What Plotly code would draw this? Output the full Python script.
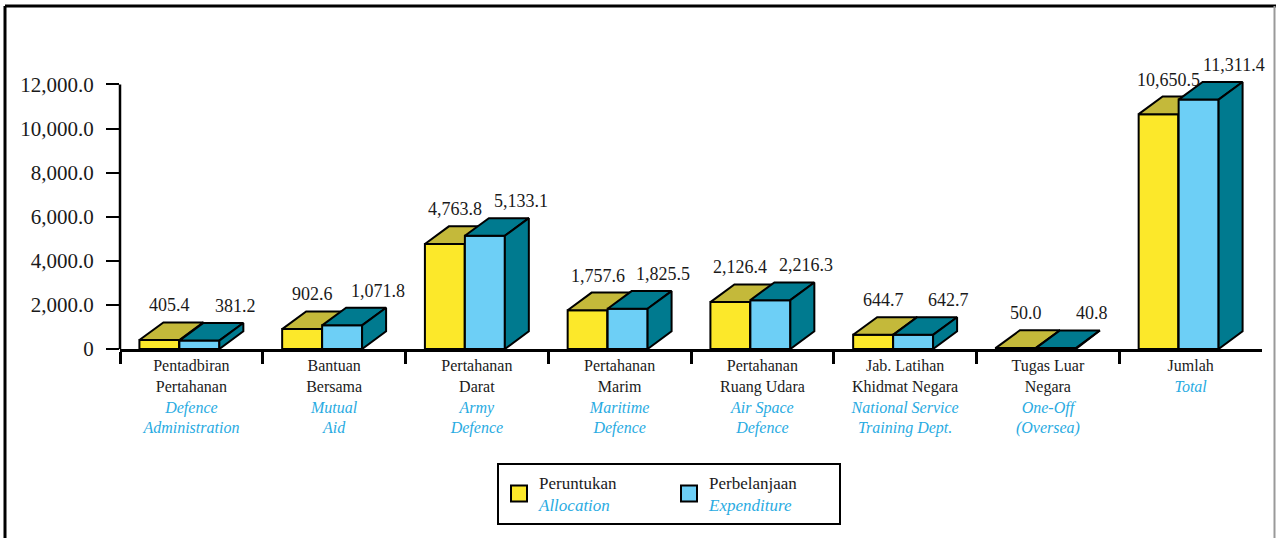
import plotly.graph_objects as go

# ---------------- data ----------------
categories_ms = ["Pentadbiran<br>Pertahanan", "Bantuan<br>Bersama", "Pertahanan<br>Darat",
                 "Pertahanan<br>Marim", "Pertahanan<br>Ruang Udara", "Jab. Latihan<br>Khidmat Negara",
                 "Tugas Luar<br>Negara", "Jumlah"]
categories_en = ["Defence<br>Administration", "Mutual<br>Aid", "Army<br>Defence",
                 "Maritime<br>Defence", "Air Space<br>Defence", "National Service<br>Training Dept.",
                 "One-Off<br>(Oversea)", "Total"]
allocation = [405.4, 902.6, 4763.8, 1757.6, 2126.4, 644.7, 50.0, 10650.5]
expenditure = [381.2, 1071.8, 5133.1, 1825.5, 2216.3, 642.7, 40.8, 11311.4]
series_ms = ["Peruntukan", "Perbelanjaan"]
series_en = ["Allocation", "Expenditure"]
y_tickvals = [0, 2000, 4000, 6000, 8000, 10000, 12000]
y_ticktext = ["0", "2,000.0", "4,000.0", "6,000.0", "8,000.0", "10,000.0", "12,000.0"]

# ---------------- style ----------------
W, H = 1276, 538
ML, MR, MT, MB = 120, 14, 50, 189
YMAX = 13560
BAR_W = 0.28
DX, DY = 0.168, 800
YELLOW, OLIVE = "#FCE82A", "#C4B93A"
LBLUE, TEAL = "#6DCFF6", "#007A8F"
CYAN = "#29ABE2"
FONT = "'Liberation Serif', 'Times New Roman', serif"
TXT = "#1a1a1a"

n = len(allocation)
xs = list(range(n))
half = (2 * BAR_W + DX) / 2
yl = [c - half for c in xs]
yr = [c - half + BAR_W for c in xs]
br = [c - half + 2 * BAR_W for c in xs]


def poly_trace(polys, fill, name):
    px_, py_ = [], []
    for p in polys:
        for (a, b) in p + [p[0]]:
            px_.append(a)
            py_.append(b)
        px_.append(None)
        py_.append(None)
    return go.Scatter(x=px_, y=py_, mode="lines", fill="toself", fillcolor=fill,
                      line=dict(color="black", width=2), hoverinfo="skip",
                      showlegend=False, name=name)


def top(xl, xr, v):
    return [(xl, v), (xr, v), (xr + DX, v + DY), (xl + DX, v + DY)]


def side(xr, v):
    return [(xr, 0), (xr + DX, DY), (xr + DX, v + DY), (xr, v)]


def front(xl, xr, v):
    return [(xl, 0), (xr, 0), (xr, v), (xl, v)]


fig = go.Figure()
fig.add_trace(go.Bar(x=xs, y=allocation, width=BAR_W, offset=-half, base=0,
                     marker=dict(color=YELLOW, line=dict(color="black", width=2)),
                     showlegend=False, hoverinfo="skip"))
fig.add_trace(go.Bar(x=xs, y=expenditure, width=BAR_W, offset=-half + BAR_W, base=0,
                     marker=dict(color=LBLUE, line=dict(color="black", width=2)),
                     showlegend=False, hoverinfo="skip"))

fig.add_trace(poly_trace([side(yr[i], allocation[i]) for i in xs], OLIVE, "a-side"))
fig.add_trace(poly_trace([top(yl[i], yr[i], allocation[i]) for i in xs], OLIVE, "a-top"))
fig.add_trace(poly_trace([front(yr[i], br[i], expenditure[i]) for i in xs], LBLUE, "e-front"))
fig.add_trace(poly_trace([top(yr[i], br[i], expenditure[i]) for i in xs], TEAL, "e-top"))
fig.add_trace(poly_trace([side(br[i], expenditure[i]) for i in xs], TEAL, "e-side"))

# legend entries
for nm_ms, nm_en, col in zip(series_ms, series_en, [YELLOW, LBLUE]):
    fig.add_trace(go.Scatter(
        x=[None], y=[None], mode="markers",
        marker=dict(symbol="square", size=16, color=col, line=dict(color="black", width=2)),
        name=f"{nm_ms}<br><span style='color:{CYAN}'><i>{nm_en}</i></span>"))

# value labels
for i in xs:
    fig.add_annotation(x=(yl[i] + yr[i]) / 2 + 0.07, y=allocation[i] + DY,
                       text=f"{allocation[i]:,.1f}", showarrow=False, yanchor="bottom",
                       yshift=5, font=dict(family=FONT, size=18, color=TXT))
    fig.add_annotation(x=(yr[i] + br[i]) / 2 + 0.25, y=expenditure[i] + DY,
                       text=f"{expenditure[i]:,.1f}", showarrow=False, yanchor="bottom",
                       yshift=5, font=dict(family=FONT, size=18, color=TXT))

ticktext = []
for ms, en in zip(categories_ms, categories_en):
    en_lines = "<br>".join(f"<span style='color:{CYAN}'><i>{ln}</i></span>" for ln in en.split("<br>"))
    ticktext.append(f"{ms}<br>{en_lines}")

pw = W - ML - MR
ph = H - MT - MB


def pxx(px):
    return (px - ML) / pw


def pxy(py):
    return (H - MB - py) / ph


fig.update_layout(
    width=W, height=H, margin=dict(l=ML, r=MR, t=MT, b=MB),
    paper_bgcolor="white", plot_bgcolor="white", barmode="overlay",
    font=dict(family=FONT, size=17, color=TXT),
    xaxis=dict(range=[-0.5, n - 0.5], tickvals=xs, ticktext=ticktext, ticks="",
               showline=True, linecolor="black", linewidth=2.5, showgrid=False, zeroline=False,
               tickfont=dict(family=FONT, size=16, color=TXT),
               minor=dict(tickmode="array", tickvals=[c - 0.5 for c in xs], ticks="outside",
                          ticklen=12, tickwidth=2.5, tickcolor="black", showgrid=False)),
    yaxis=dict(range=[0, YMAX], tickvals=y_tickvals, ticktext=y_ticktext, ticks="outside",
               ticklen=13, tickwidth=2, tickcolor="black", showline=False, showgrid=False,
               zeroline=False, ticklabelstandoff=8,
               tickfont=dict(family=FONT, size=21, color=TXT)),
    legend=dict(orientation="h", x=pxx(669), xanchor="center", y=pxy(463), yanchor="top",
                bordercolor="black", borderwidth=2, bgcolor="white",
                font=dict(family=FONT, size=17, color=TXT), entrywidth=125,
                itemsizing="trace", valign="middle"),
    shapes=[
        dict(type="line", xref="paper", yref="y", x0=0, x1=0, y0=0, y1=12000,
             line=dict(color="black", width=2.5)),
        dict(type="line", xref="paper", yref="paper", x0=pxx(5), x1=pxx(5), y0=pxy(6), y1=pxy(545),
             line=dict(color="black", width=3)),
        dict(type="line", xref="paper", yref="paper", x0=pxx(5), x1=pxx(1276), y0=pxy(6), y1=pxy(6),
             line=dict(color="black", width=3)),
        dict(type="line", xref="paper", yref="paper", x0=pxx(1274.5), x1=pxx(1274.5), y0=pxy(6), y1=pxy(545),
             line=dict(color="#999999", width=2)),
    ],
)

fig.write_html("out.html", config={"displayModeBar": False},
               post_script="document.body.style.margin='0';document.body.style.overflow='hidden';")
